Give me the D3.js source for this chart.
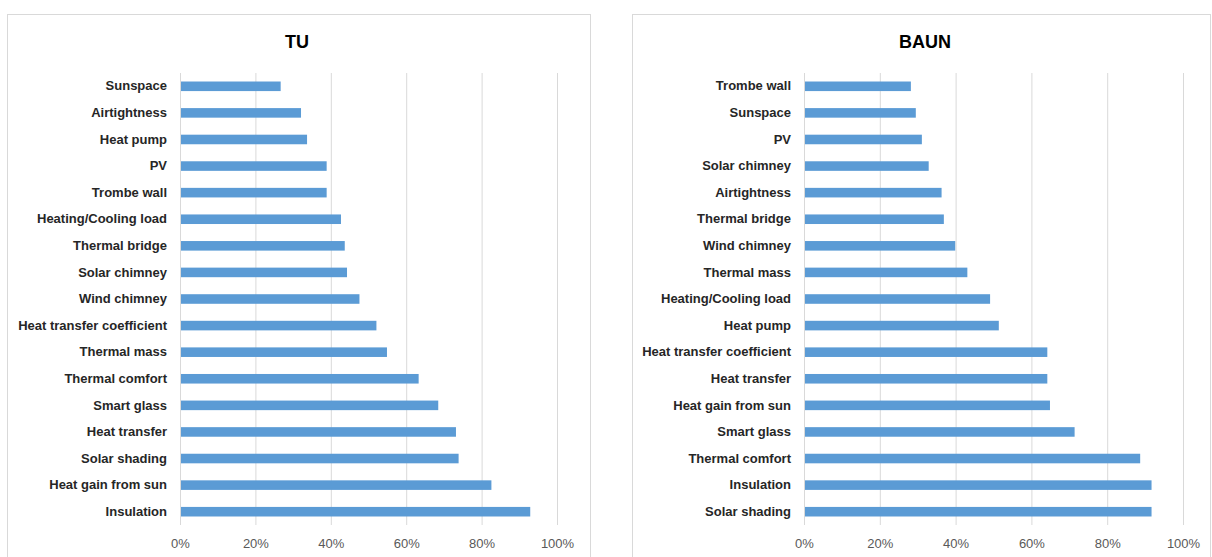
<!DOCTYPE html>
<html>
<head>
<meta charset="utf-8">
<script src="https://cdn.jsdelivr.net/npm/d3@7"></script>
<style>
  body { margin: 0; background: #fff; }
  svg { display: block; }
  .cat text { font-family: 'Liberation Sans', sans-serif; font-weight: bold; font-size: 13px; fill: #262626; }
  .pct text { font-family: 'Liberation Sans', sans-serif; font-size: 13px; fill: #595959; }
  .title { font-family: 'Liberation Sans', sans-serif; font-weight: bold; font-size: 18px; fill: #000; }
</style>
</head>
<body>
<div id="chart"></div>
<script>
// TU survey (top to bottom as drawn)
let tuCategories = ['Sunspace', 'Airtightness', 'Heat pump', 'PV', 'Trombe wall', 'Heating/Cooling load',
    'Thermal bridge', 'Solar chimney', 'Wind chimney', 'Heat transfer coefficient', 'Thermal mass',
    'Thermal comfort', 'Smart glass', 'Heat transfer', 'Solar shading', 'Heat gain from sun', 'Insulation']
let tuValues = [0.267, 0.321, 0.337, 0.389, 0.389, 0.427, 0.437, 0.443, 0.476, 0.521, 0.549,
    0.633, 0.685, 0.732, 0.739, 0.826, 0.929]

// BAUN survey
let baunCategories = ['Trombe wall', 'Sunspace', 'PV', 'Solar chimney', 'Airtightness', 'Thermal bridge',
    'Wind chimney', 'Thermal mass', 'Heating/Cooling load', 'Heat pump', 'Heat transfer coefficient',
    'Heat transfer', 'Heat gain from sun', 'Smart glass', 'Thermal comfort', 'Insulation', 'Solar shading']
let baunValues = [0.282, 0.295, 0.311, 0.329, 0.363, 0.369, 0.399, 0.431, 0.491, 0.514, 0.642,
    0.642, 0.649, 0.714, 0.887, 0.917, 0.917]

let tickValues = [0, 0.2, 0.4, 0.6, 0.8, 1]

let svg = d3.select('#chart').append('svg')
    .attr('width', 1212)
    .attr('height', 557)

let DrawBars = function (box, title, categories, values) {
    this.box = box
    this.g = svg.append('g')
        .attr('transform', 'translate(' + box.x + ', ' + box.y + ')')

    // chart frame
    this.g.append('rect')
        .attr('x', 0.5)
        .attr('y', 0.5)
        .attr('width', box.w)
        .attr('height', box.h)
        .attr('fill', '#fff')
        .attr('stroke', '#d9d9d9')

    this.g.append('text')
        .attr('class', 'title')
        .attr('x', box.titleX)
        .attr('y', 34)
        .attr('text-anchor', 'middle')
        .text(title)

    let data = categories.map(function (c, i) {
        return { name: c, value: values[i] }
    })

    let xScale = d3.scaleLinear().domain([0, 1]).range([box.left, box.right])
    let yScale = d3.scaleBand()
        .domain(categories)
        .range([box.top, box.bottom])
        .paddingInner(0.64)
        .paddingOuter(0.32)

    let grid = this.g.append('g').attr('class', 'grid')
    grid.selectAll('line')
        .data(tickValues)
        .enter().append('line')
        .attr('x1', function (d) { return xScale(d) + 0.5 })
        .attr('x2', function (d) { return xScale(d) + 0.5 })
        .attr('y1', box.top)
        .attr('y2', box.bottom)
        .attr('stroke', '#d9d9d9')

    this.g.append('g')
        .selectAll('rect')
        .data(data)
        .enter().append('rect')
        .attr('x', xScale(0) + 1)
        .attr('y', function (d) { return yScale(d.name) })
        .attr('width', function (d) { return xScale(d.value) - xScale(0) - 1 })
        .attr('height', yScale.bandwidth())
        .attr('fill', '#5b9bd5')

    let yAxis = d3.axisLeft(yScale).tickSize(0).tickPadding(13)
    this.g.append('g')
        .attr('class', 'cat')
        .attr('transform', 'translate(' + box.left + ', 0)')
        .call(yAxis)
        .call(function (g) { g.select('.domain').remove() })

    let xAxis = d3.axisBottom(xScale)
        .tickValues(tickValues)
        .tickSize(0)
        .tickPadding(14)
        .tickFormat(d3.format('.0%'))
    this.g.append('g')
        .attr('class', 'pct')
        .attr('transform', 'translate(0, ' + box.bottom + ')')
        .call(xAxis)
        .call(function (g) { g.select('.domain').remove() })
}

new DrawBars({ x: 7, y: 14, w: 583, h: 560, left: 173, right: 550, top: 59, bottom: 511, titleX: 290 },
    'TU', tuCategories, tuValues)
new DrawBars({ x: 632, y: 14, w: 578, h: 560, left: 172, right: 551, top: 59, bottom: 511, titleX: 293 },
    'BAUN', baunCategories, baunValues)
</script>
</body>
</html>
